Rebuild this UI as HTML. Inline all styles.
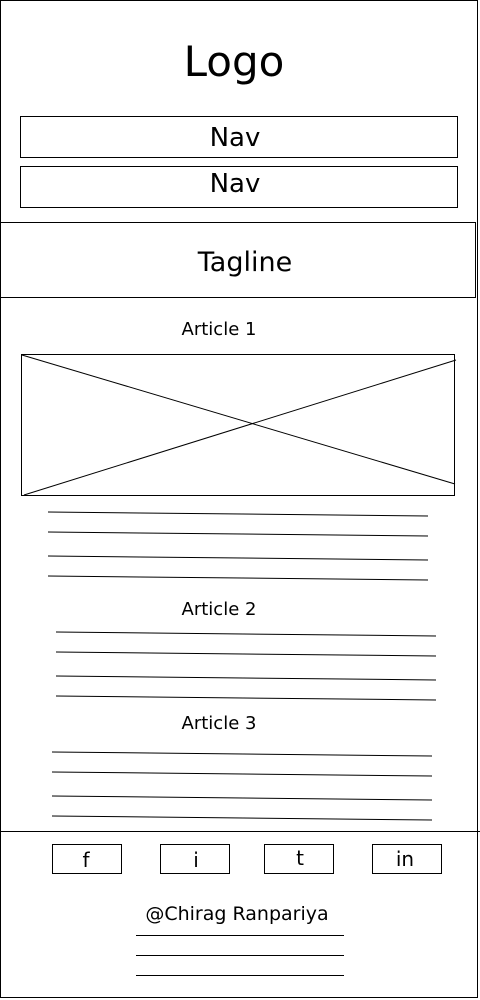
<!DOCTYPE html>
<html><head><meta charset="utf-8"><style>
html,body{margin:0;padding:0;background:#fff;width:480px;height:1000px;overflow:hidden}
svg{display:block}
text{font-family:"DejaVu Sans","Liberation Sans",sans-serif;fill:#000}
</style></head><body>
<svg width="480" height="1000" viewBox="0 0 480 1000" stroke="#000" fill="none" stroke-width="1">
<rect x="0.5" y="0.5" width="477" height="997"/>
<text x="234" y="76" font-size="42" text-anchor="middle" stroke="none">Logo</text>
<g><rect x="20.5" y="116.5" width="437" height="41"/><text x="235" y="146" font-size="26" text-anchor="middle" stroke="none">Nav</text></g>
<g><rect x="20.5" y="166.5" width="437" height="41"/><text x="235" y="192" font-size="26" text-anchor="middle" stroke="none">Nav</text></g>
<g><rect x="0.5" y="222.5" width="475" height="75"/><text x="245" y="271" font-size="27" text-anchor="middle" stroke="none">Tagline</text></g>
<text x="219" y="335" font-size="18" text-anchor="middle" stroke="none">Article 1</text>
<g><rect x="21.5" y="354.5" width="433" height="141"/><line x1="22" y1="355" x2="455" y2="484"/><line x1="24" y1="495" x2="456" y2="360"/></g>
<g>
<line x1="48" y1="512" x2="428" y2="516"/><line x1="48" y1="532" x2="428" y2="536"/><line x1="48" y1="556" x2="428" y2="560"/><line x1="48" y1="576" x2="428" y2="580"/></g>
<text x="219" y="615" font-size="18" text-anchor="middle" stroke="none">Article 2</text>
<g>
<line x1="56" y1="632" x2="436" y2="636"/><line x1="56" y1="652" x2="436" y2="656"/><line x1="56" y1="676" x2="436" y2="680"/><line x1="56" y1="696" x2="436" y2="700"/></g>
<text x="219" y="729" font-size="18" text-anchor="middle" stroke="none">Article 3</text>
<g>
<line x1="52" y1="752" x2="432" y2="756"/><line x1="52" y1="772" x2="432" y2="776"/><line x1="52" y1="796" x2="432" y2="800"/><line x1="52" y1="816" x2="432" y2="820"/></g>
<line x1="0" y1="831.5" x2="480" y2="831.5"/>
<g><rect x="52.5" y="844.5" width="69" height="29"/><text x="86" y="867" font-size="20" text-anchor="middle" stroke="none">f</text></g>
<g><rect x="160.5" y="844.5" width="69" height="29"/><text x="196" y="867" font-size="20" text-anchor="middle" stroke="none">i</text></g>
<g><rect x="264.5" y="844.5" width="69" height="29"/><text x="300" y="865" font-size="20" text-anchor="middle" stroke="none">t</text></g>
<g><rect x="372.5" y="844.5" width="69" height="29"/><text x="405" y="866" font-size="20" text-anchor="middle" stroke="none">in</text></g>
<text x="237" y="920" font-size="19" text-anchor="middle" stroke="none">@Chirag Ranpariya</text>
<g>
<line x1="136" y1="935.5" x2="344" y2="935.5"/><line x1="136" y1="955.5" x2="344" y2="955.5"/><line x1="136" y1="975.5" x2="344" y2="975.5"/></g>
</svg>
</body></html>
